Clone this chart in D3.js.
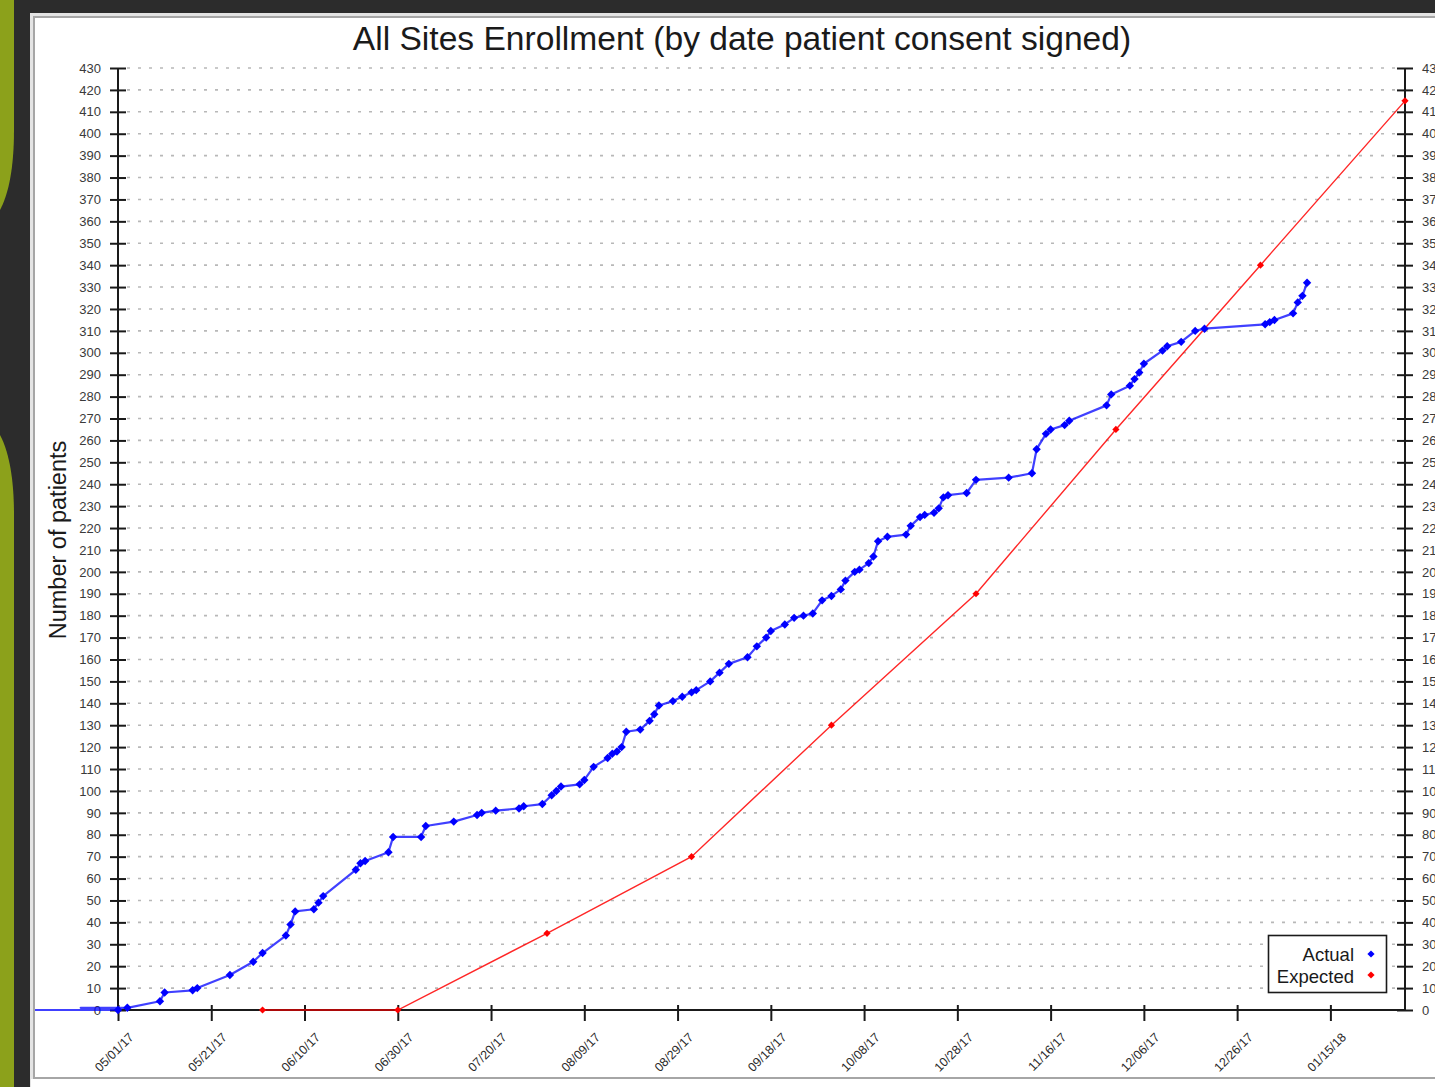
<!DOCTYPE html>
<html>
<head>
<meta charset="utf-8">
<script src="https://cdn.jsdelivr.net/npm/d3@7"></script>
<style>
  html, body { margin: 0; padding: 0; background: #2c2c2c; }
  svg { display: block; font-family: "Liberation Sans", Arial, Helvetica, sans-serif; }
</style>
</head>
<body>
<svg id="chart" width="1435" height="1087"></svg>
<script>
// Enrollment dates (consent signed) and cumulative patient counts
const actualDates = [
  "2017-04-01","2017-05-01","2017-04-23","2017-05-03","2017-05-10","2017-05-11","2017-05-17","2017-05-18",
  "2017-05-25","2017-05-30","2017-06-01","2017-06-06","2017-06-07","2017-06-08","2017-06-12","2017-06-13",
  "2017-06-14","2017-06-21","2017-06-22","2017-06-23","2017-06-28","2017-06-29","2017-07-05","2017-07-06",
  "2017-07-12","2017-07-17","2017-07-18","2017-07-21","2017-07-26","2017-07-27","2017-07-31","2017-08-02",
  "2017-08-03","2017-08-04","2017-08-08","2017-08-09","2017-08-11","2017-08-14","2017-08-15","2017-08-16",
  "2017-08-17","2017-08-18","2017-08-21","2017-08-23","2017-08-24","2017-08-25","2017-08-28","2017-08-30",
  "2017-09-01","2017-09-02","2017-09-05","2017-09-07","2017-09-09","2017-09-13","2017-09-15","2017-09-17",
  "2017-09-18","2017-09-21","2017-09-23","2017-09-25","2017-09-27","2017-09-29","2017-10-01","2017-10-03",
  "2017-10-04","2017-10-06","2017-10-07","2017-10-09","2017-10-10","2017-10-11","2017-10-13","2017-10-17",
  "2017-10-18","2017-10-20","2017-10-21","2017-10-23","2017-10-24","2017-10-25","2017-10-26","2017-10-30",
  "2017-11-01","2017-11-08","2017-11-13","2017-11-14","2017-11-16","2017-11-17","2017-11-20","2017-11-21",
  "2017-11-29","2017-11-30","2017-12-04","2017-12-05","2017-12-06","2017-12-07","2017-12-11","2017-12-12",
  "2017-12-15","2017-12-18","2017-12-20","2018-01-02","2018-01-03","2018-01-04","2018-01-08","2018-01-09",
  "2018-01-10","2018-01-11"
];
const actualCounts = [
  0, 0, 1, 1, 4, 8, 9, 10,
  16, 22, 26, 34, 39, 45, 46, 49,
  52, 64, 67, 68, 72, 79, 79, 84,
  86, 89, 90, 91, 92, 93, 94, 98,
  100, 102, 103, 105, 111, 115, 117, 118,
  120, 127, 128, 132, 135, 139, 141, 143,
  145, 146, 150, 154, 158, 161, 166, 170,
  173, 176, 179, 180, 181, 187, 189, 192,
  196, 200, 201, 204, 207, 214, 216, 217,
  221, 225, 226, 227, 229, 234, 235, 236,
  242, 243, 245, 256, 263, 265, 267, 269,
  276, 281, 285, 288, 291, 295, 301, 303,
  305, 310, 311, 313, 314, 315, 318, 323,
  326, 332
];

// Monthly enrollment targets
const expectedDates  = ["2017-06-01","2017-06-30","2017-08-01","2017-09-01","2017-10-01","2017-11-01","2017-12-01","2018-01-01","2018-02-01"];
const expectedCounts = [0, 0, 35, 70, 130, 190, 265, 340, 415];

// Axis ticks
const xTickLabels = ["05/01/17","05/21/17","06/10/17","06/30/17","07/20/17","08/09/17","08/29/17",
                     "09/18/17","10/08/17","10/28/17","11/16/17","12/06/17","12/26/17","01/15/18"];
const yTickValues = d3.range(0, 431, 10);

const legendLabels = ["Actual", "Expected"];
const seriesColors = ["#0000ff", "#ff0000"];

const parse = d3.utcParse("%Y-%m-%d");
const actual = actualDates.map((d, i) => ({ date: parse(d), value: actualCounts[i] }));
const expected = expectedDates.map((d, i) => ({ date: parse(d), value: expectedCounts[i] }));

const svg = d3.select("#chart");
const W = 1435, H = 1087;

// slide background and accent stripes
svg.append("rect").attr("width", W).attr("height", H).attr("fill", "#2c2c2c");
svg.append("path").attr("fill", "#8ca11b")
  .attr("d", "M0,0 H14 V130 C14,170 8,195 0,210 Z");
svg.append("path").attr("fill", "#8ca11b")
  .attr("d", "M0,435 C8,450 14,475 14,515 V1087 H0 Z");

// chart panel
svg.append("rect").attr("x", 30).attr("y", 13).attr("width", W - 30).attr("height", H - 13)
  .attr("fill", "#e4e4e4");
svg.append("rect").attr("x", 34).attr("y", 17).attr("width", W).attr("height", 1061)
  .attr("fill", "#fff").attr("stroke", "#a6a6a6").attr("stroke-width", 2);
svg.append("rect").attr("x", 31).attr("y", 1079).attr("width", W).attr("height", 8).attr("fill", "#fff");

svg.append("clipPath").attr("id", "panelClip")
  .append("rect").attr("x", 35).attr("y", 18).attr("width", W).attr("height", 1059);

const x0 = 118, x1 = 1405, y0 = 1010, y1 = 68;
const x = d3.scaleUtc().domain([parse("2017-05-01"), parse("2018-02-01")]).range([x0, x1]);
const y = d3.scaleLinear().domain([0, 430]).range([y0, y1]);

// title
svg.append("text").attr("x", 742).attr("y", 50).attr("text-anchor", "middle")
  .attr("font-size", 33.6).attr("fill", "#1a1a1a")
  .text("All Sites Enrollment (by date patient consent signed)");

// y-axis title
svg.append("text").attr("transform", "translate(66,540) rotate(-90)")
  .attr("text-anchor", "middle").attr("font-size", 23.5).attr("fill", "#1a1a1a")
  .text("Number of patients");

// dashed gridlines
svg.append("g").selectAll("line").data(yTickValues.filter(v => v > 0)).join("line")
  .attr("x1", x0 + 9).attr("x2", x1 - 8)
  .attr("y1", d => y(d)).attr("y2", d => y(d))
  .attr("stroke", "#b8b8b8").attr("stroke-width", 1.6).attr("stroke-dasharray", "3,8");

// left axis
const gl = svg.append("g").attr("transform", `translate(${x0},0)`)
  .call(d3.axisLeft(y).tickValues(yTickValues).tickSize(8).tickPadding(9));
gl.selectAll(".tick line").attr("x1", 8);
// right axis (its labels run off the panel's right edge)
const gr = svg.append("g").attr("transform", `translate(${x1},0)`)
  .call(d3.axisRight(y).tickValues(yTickValues).tickSize(8).tickPadding(9));
gr.selectAll(".tick line").attr("x1", -8);
[gl, gr].forEach(g => {
  g.select(".domain").attr("stroke", "#1a1a1a").attr("stroke-width", 2).attr("d", `M0,${y0}V${y1}`);
  g.selectAll(".tick line").attr("stroke", "#1a1a1a").attr("stroke-width", 2);
  g.selectAll(".tick text").attr("font-size", 13).attr("fill", "#3a3a3a")
    .attr("font-family", "'Liberation Sans', Arial, sans-serif");
});

// bottom axis
const xTicks = xTickLabels.map((_, i) => d3.utcDay.offset(parse("2017-05-01"), 20 * i));
const gx = svg.append("g").attr("transform", `translate(0,${y0})`)
  .call(d3.axisBottom(x).tickValues(xTicks).tickFormat((d, i) => xTickLabels[i]).tickSize(11));
gx.select(".domain").attr("stroke", "#1a1a1a").attr("stroke-width", 2).attr("d", `M${x0},0H${x1}`);
gx.selectAll(".tick line").attr("y1", -5).attr("stroke", "#1a1a1a").attr("stroke-width", 2);
gx.selectAll(".tick text")
  .attr("font-size", 12.5).attr("fill", "#2a2a2a")
  .attr("font-family", "'Liberation Sans', Arial, sans-serif")
  .attr("text-anchor", "end").attr("dy", null).attr("y", null)
  .attr("transform", "translate(16,28) rotate(-45)");

// series
const diamond = r => `M0,${-r}L${r},0L0,${r}L${-r},0Z`;
const line = d3.line().x(d => x(d.date)).y(d => y(d.value));
const plot = svg.append("g").attr("clip-path", "url(#panelClip)");
const inDomain = d => d.date >= x.domain()[0] && d.date <= x.domain()[1];

plot.append("path").datum(expected).attr("d", line).attr("fill", "none")
  .attr("stroke", seriesColors[1]).attr("stroke-width", 1.4).attr("stroke-opacity", 0.85);
plot.append("g").selectAll("path").data(expected.filter(inDomain)).join("path")
  .attr("transform", d => `translate(${x(d.date)},${y(d.value)})`)
  .attr("d", diamond(3.6)).attr("fill", seriesColors[1]);

plot.append("path").datum(actual).attr("d", line).attr("fill", "none")
  .attr("stroke", seriesColors[0]).attr("stroke-width", 2.2).attr("stroke-opacity", 0.75)
  .attr("stroke-linejoin", "round");
plot.append("g").selectAll("path").data(actual.filter(inDomain)).join("path")
  .attr("transform", d => `translate(${x(d.date)},${y(d.value)})`)
  .attr("d", diamond(4.2)).attr("fill", seriesColors[0]);

// legend
const lg = svg.append("g");
lg.append("rect").attr("x", 1268.5).attr("y", 935.5).attr("width", 118).attr("height", 57)
  .attr("fill", "#fff").attr("stroke", "#1a1a1a").attr("stroke-width", 1.6);
legendLabels.forEach((lab, i) => {
  lg.append("text").attr("x", 1354).attr("y", 961 + i * 21.5).attr("text-anchor", "end")
    .attr("font-size", 18.5).attr("fill", "#1a1a1a").text(lab);
  lg.append("path").attr("transform", `translate(1371,${954 + i * 21})`)
    .attr("d", diamond(3.6)).attr("fill", seriesColors[i]);
});
</script>
</body>
</html>
